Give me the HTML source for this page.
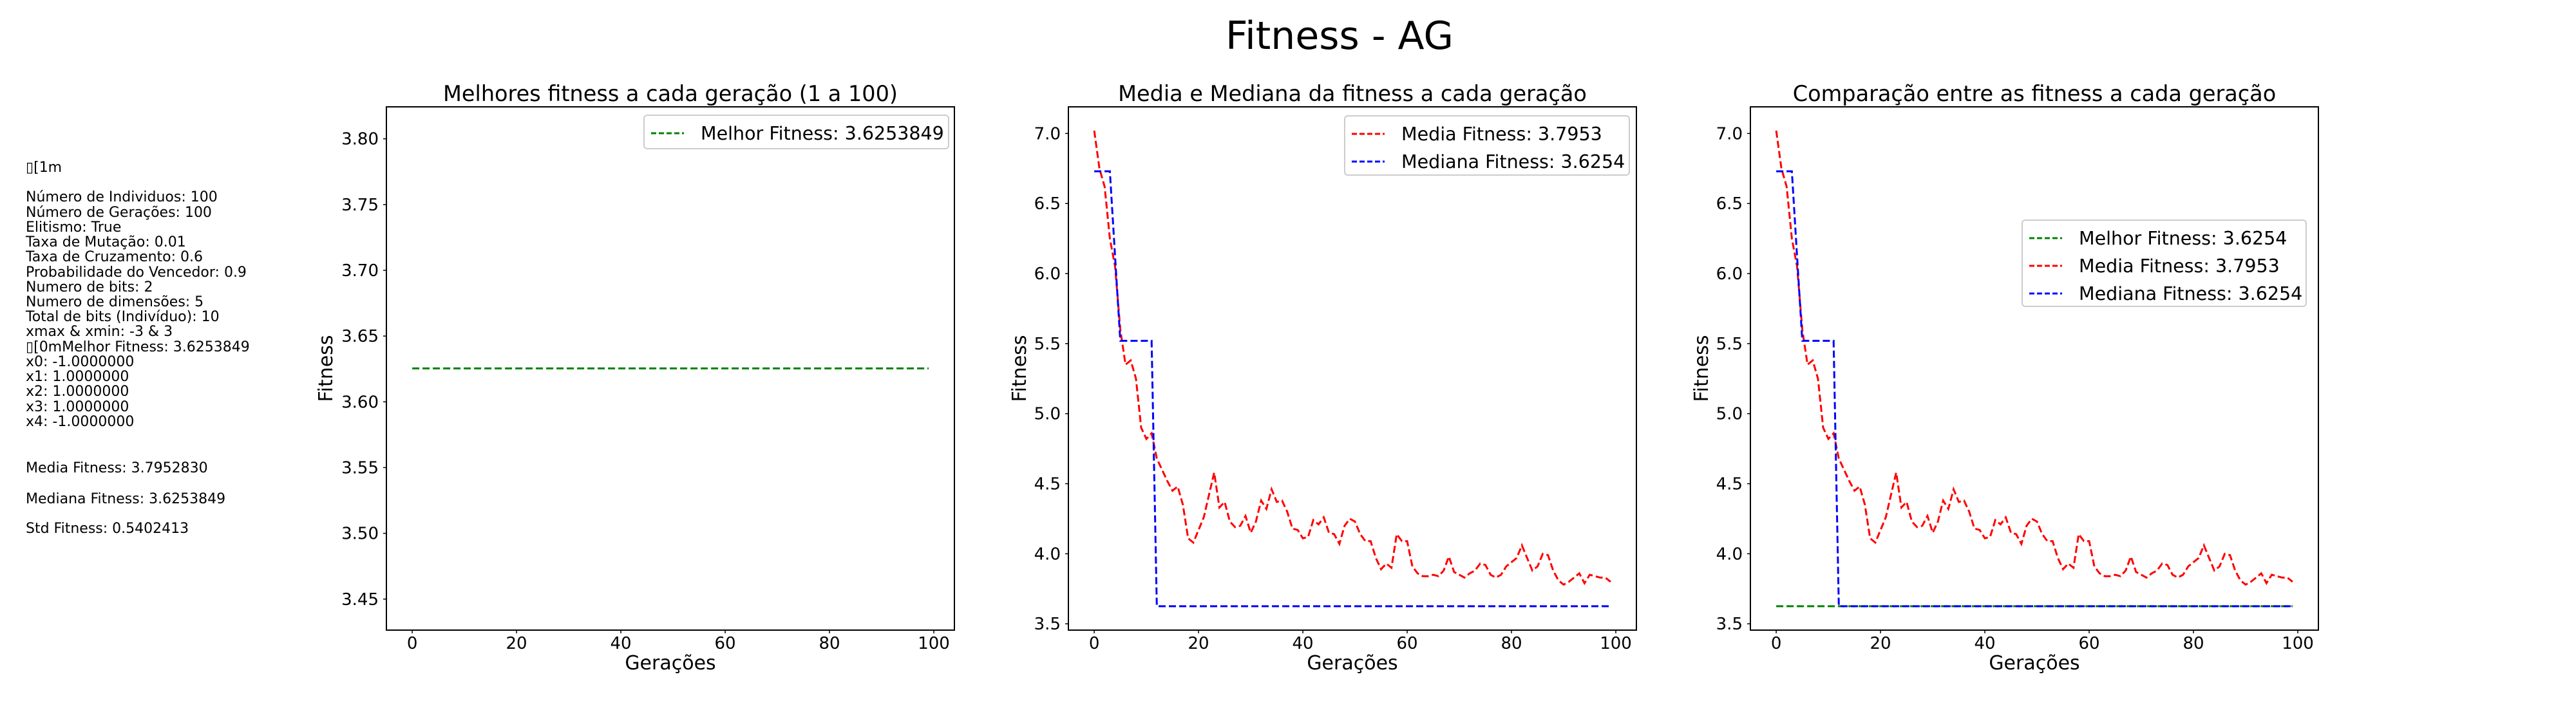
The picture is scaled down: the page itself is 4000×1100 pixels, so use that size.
<!DOCTYPE html>
<html><head><meta charset="utf-8"><style>
body{margin:0;background:#fff;}
svg{display:block;font-family:"DejaVu Sans","Liberation Sans",sans-serif;}
</style></head><body>
<svg id="fig" width="4000" height="1100" xmlns="http://www.w3.org/2000/svg">
<text x="2080" y="76" font-size="60" text-anchor="middle">Fitness - AG</text>
<g font-size="22">
<text x="40" y="267">▯[1m</text>
<text x="40" y="313">Número de Individuos: 100</text>
<text x="40" y="337">Número de Gerações: 100</text>
<text x="40" y="360">Elitismo: True</text>
<text x="40" y="383">Taxa de Mutação: 0.01</text>
<text x="40" y="406">Taxa de Cruzamento: 0.6</text>
<text x="40" y="430">Probabilidade do Vencedor: 0.9</text>
<text x="40" y="453">Numero de bits: 2</text>
<text x="40" y="476">Numero de dimensões: 5</text>
<text x="40" y="499">Total de bits (Indivíduo): 10</text>
<text x="40" y="522">xmax &amp; xmin: -3 &amp; 3</text>
<text x="40" y="546">▯[0mMelhor Fitness: 3.6253849</text>
<text x="40" y="569">x0: -1.0000000</text>
<text x="40" y="592">x1: 1.0000000</text>
<text x="40" y="615">x2: 1.0000000</text>
<text x="40" y="639">x3: 1.0000000</text>
<text x="40" y="662">x4: -1.0000000</text>
<text x="40" y="734">Media Fitness: 3.7952830</text>
<text x="40" y="782">Mediana Fitness: 3.6253849</text>
<text x="40" y="828">Std Fitness: 0.5402413</text>
</g>
</svg>
<script>
const generations = Array.from({length:100},(_,i)=>i);
const bestFitness = Array(100).fill(3.6253849);
const meanFitness = [7.02,6.75,6.62,6.25,6.05,5.6,5.35,5.38,5.25,4.9,4.82,4.86,4.68,4.6,4.52,4.45,4.48,4.35,4.11,4.08,
4.17,4.26,4.42,4.58,4.33,4.37,4.23,4.19,4.2,4.27,4.15,4.23,4.38,4.32,4.46,4.37,4.38,4.3,4.18,4.17,
4.11,4.12,4.24,4.21,4.26,4.15,4.14,4.07,4.2,4.25,4.23,4.14,4.09,4.09,3.97,3.89,3.93,3.9,4.14,4.09,
4.09,3.91,3.86,3.84,3.84,3.85,3.84,3.88,3.98,3.87,3.85,3.83,3.86,3.88,3.93,3.92,3.85,3.83,3.85,3.91,
3.94,3.97,4.06,3.97,3.88,3.91,4.0,3.99,3.88,3.81,3.78,3.8,3.83,3.86,3.79,3.85,3.84,3.83,3.83,3.8];
const medianFitness = [6.73,6.73,6.73,6.73,6.12,5.52,5.52,5.52,5.52,5.52,5.52,5.52].concat(Array(88).fill(3.6254));
const xTicks = [0,20,40,60,80,100];
const yTicks1 = ["3.45","3.50","3.55","3.60","3.65","3.70","3.75","3.80"];
const yTicks2 = ["3.5","4.0","4.5","5.0","5.5","6.0","6.5","7.0"];
const titles = ["Melhores fitness a cada geração (1 a 100)","Media e Mediana da fitness a cada geração","Comparação entre as fitness a cada geração"];

const NS="http://www.w3.org/2000/svg";
const svg=document.getElementById('fig');
function mk(tag,attrs,parent){const e=document.createElementNS(NS,tag);for(const k in attrs)e.setAttribute(k,attrs[k]);(parent||svg).appendChild(e);return e;}
const TOP=166,BOT=979,W=882;
const lefts=[600,1659,2718];
function panel(idx,ylim,yTicks,series,legend){
  const L=lefts[idx],R=L+W;
  const g=mk('g',{});
  
  
  const xs=v=>L+(v+4.95)/108.9*W;
  const ys=v=>BOT-(v-ylim[0])/(ylim[1]-ylim[0])*(BOT-TOP);
  const t=mk('text',{x:(L+R)/2,y:157,'font-size':33.5,'text-anchor':'middle'},g);t.textContent=titles[idx];
  
  
  xTicks.forEach(v=>{const x=xs(v);mk('line',{x1:x,x2:x,y1:BOT,y2:BOT+5,stroke:'#000','stroke-width':1.5},g);
    const tt=mk('text',{x:x,y:BOT+29,'font-size':26,'text-anchor':'middle'},g);tt.textContent=v;
    
    });
  yTicks.forEach(s=>{const y=ys(parseFloat(s));mk('line',{x1:L-5,x2:L,y1:y,y2:y,stroke:'#000','stroke-width':1.5},g);
    const tt=mk('text',{x:L-12,y:y+9,'font-size':26,'text-anchor':'end'},g);tt.textContent=s;
    
    });
  const xl=mk('text',{x:(L+R)/2,y:1040,'font-size':30,'text-anchor':'middle'},g);xl.textContent='Gerações';
  
  
  const yl=mk('text',{x:0,y:0,'font-size':30,'text-anchor':'middle',transform:`translate(${L-(idx==0?84:66)},${(TOP+BOT)/2}) rotate(-90)`},g);yl.textContent='Fitness';
  
  
  series.forEach(s=>{
    const d=generations.map((gx,i)=>(i?'L':'M')+xs(gx).toFixed(1)+','+ys(s.data[i]).toFixed(1)).join(' ');
    const p=mk('path',{d:d,fill:'none',stroke:s.color,'stroke-width':3,'stroke-dasharray':'11,5'},g);
    
    
  });
  mk('rect',{x:L,y:TOP,width:W,height:BOT-TOP,fill:'none',stroke:'#000','stroke-width':2},g);
  const lg=mk('g',{},g);
  
  
  mk('rect',{x:legend.x,y:legend.y,width:legend.w,height:legend.h,rx:5,fill:'#fff','fill-opacity':0.85,stroke:'#ccc','stroke-width':2},lg);
  legend.items.forEach((it,i)=>{const yy=legend.y+28+i*43;
    mk('line',{x1:legend.x+11,x2:legend.x+62,y1:yy,y2:yy,stroke:it.color,'stroke-width':3,'stroke-dasharray':'8,4'},lg);
    const tt=mk('text',{x:legend.x+88,y:yy+10,'font-size':28.5},lg);tt.textContent=it.label;
    
    });
}
panel(0,[3.4264,3.8243],yTicks1,[{data:bestFitness,color:'#008000',name:'best-fitness-line'}],
 {x:1000,y:179,w:473,h:52,items:[{color:'#008000',label:'Melhor Fitness: 3.6253849'}]});
panel(1,[3.455,7.19],yTicks2,[{data:meanFitness,color:'#ff0000',name:'mean-fitness-line'},{data:medianFitness,color:'#0000ff',name:'median-fitness-line'}],
 {x:2088,y:180,w:442,h:92,items:[{color:'#ff0000',label:'Media Fitness: 3.7953'},{color:'#0000ff',label:'Mediana Fitness: 3.6254'}]});
panel(2,[3.455,7.19],yTicks2,[{data:bestFitness,color:'#008000',name:'best-fitness-line'},{data:meanFitness,color:'#ff0000',name:'mean-fitness-line'},{data:medianFitness,color:'#0000ff',name:'median-fitness-line'}],
 {x:3140,y:342,w:441,h:134,items:[{color:'#008000',label:'Melhor Fitness: 3.6254'},{color:'#ff0000',label:'Media Fitness: 3.7953'},{color:'#0000ff',label:'Mediana Fitness: 3.6254'}]});
</script>
</body></html>
